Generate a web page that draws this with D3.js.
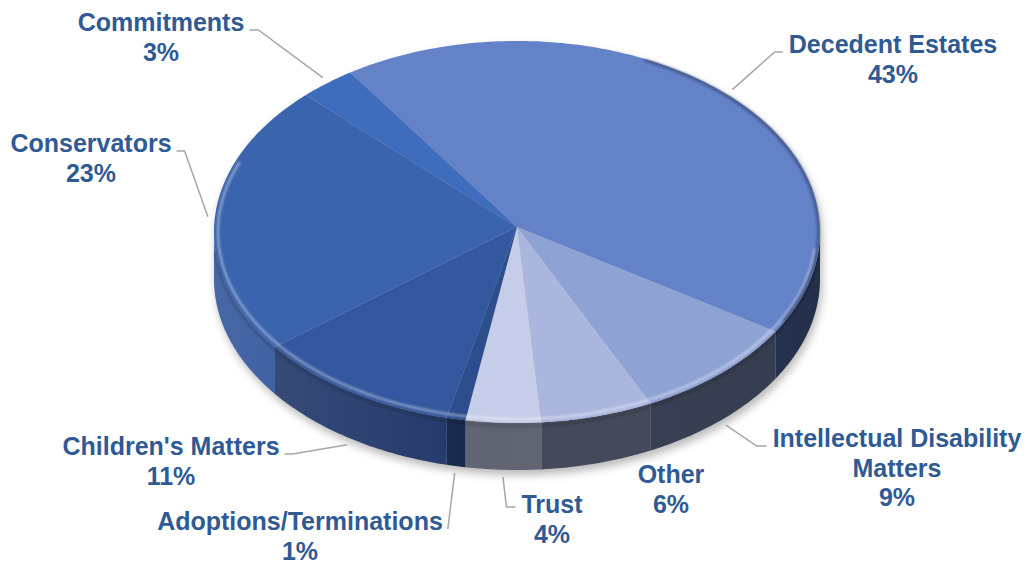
<!DOCTYPE html>
<html>
<head>
<meta charset="utf-8">
<script src="https://cdn.jsdelivr.net/npm/d3@7"></script>
<style>
body { margin: 0; background: #fff; }
svg { display: block; font-family: "Liberation Sans", Arial, sans-serif; }
</style>
</head>
<body>
<div class="chart"></div>
<script>
// data
var categories = ["Decedent Estates", "Intellectual Disability Matters", "Other", "Trust",
    "Adoptions/Terminations", "Children's Matters", "Conservators", "Commitments"];
var shares = [43, 9, 6, 4, 1, 11, 23, 3];

// styles
var topColors = ["#6482C8", "#8FA2D4", "#ABB6DE", "#C6CDE8", "#2D4E8C", "#34589F", "#3A64AE", "#3F6DBD"];
var sideColors = ["#25324F", "#363E52", "#42485A", "#5F6372", "#15284A", "#22386A", "#2E5299", "#2E5299"];

// label layout: centre x, first baseline, words on first line, where the leader leaves the text
var labelLayout = [
    {x: 893, y: 53, firstWords: 2, side: "left", elbow: 8},
    {x: 897, y: 447, firstWords: 2, side: "left", elbow: 10},
    {x: 671, y: 483, firstWords: 1, side: "none"},
    {x: 552, y: 513, firstWords: 1, side: "left", elbow: 9, lift: 5},
    {x: 300, y: 530, firstWords: 1, side: "right", elbow: 0},
    {x: 171, y: 455, firstWords: 2, side: "right", elbow: 8},
    {x: 91, y: 152, firstWords: 1, side: "right", elbow: 8},
    {x: 161, y: 31, firstWords: 1, side: "right", elbow: 9}
];

var width = 1029, height = 566;
var cx = 517, cy = 232, rx = 303, ry = 191, depth = 47;
var apex = [517, 227];
var startAngle = -33.4 * Math.PI / 180;
var lineHeight = 29.5;

var svg = d3.select(".chart")
    .append("svg")
    .attr("width", width)
    .attr("height", height);

var defs = svg.append("defs");
defs.append("filter").attr("id", "shadowBlur")
    .attr("x", "-20%").attr("y", "-20%").attr("width", "140%").attr("height", "140%")
    .append("feGaussianBlur").attr("stdDeviation", 4);
defs.append("filter").attr("id", "softBlur")
    .append("feGaussianBlur").attr("stdDeviation", 1.2);

var sideGrad = defs.append("linearGradient").attr("id", "sideGrad")
    .attr("gradientUnits", "userSpaceOnUse")
    .attr("x1", cx - rx).attr("x2", cx + rx).attr("y1", 0).attr("y2", 0);
sideGrad.append("stop").attr("offset", 0).attr("stop-color", "#fff").attr("stop-opacity", 0.12);
sideGrad.append("stop").attr("offset", 0.45).attr("stop-color", "#fff").attr("stop-opacity", 0);
sideGrad.append("stop").attr("offset", 1).attr("stop-color", "#000").attr("stop-opacity", 0.05);

var pie = d3.pie()
    .sort(null)
    .value(function(d) { return d; })
    .startAngle(startAngle)
    .endAngle(startAngle + 2 * Math.PI);
var arcs = pie(shares);

function rim(a, dy, grow) {
    grow = grow || 0;
    return [cx + (rx + grow) * Math.sin(a), cy - (ry + grow) * Math.cos(a) + (dy || 0)];
}

function arcPoints(a0, a1, dy, grow) {
    var n = Math.max(2, Math.ceil(Math.abs(a1 - a0) / (Math.PI / 180)));
    return d3.range(n + 1).map(function(i) { return rim(a0 + (a1 - a0) * i / n, dy, grow); });
}

var line = d3.line();
var front0 = Math.PI / 2, front1 = 3 * Math.PI / 2;
var deg = Math.PI / 180;

// drop shadow of the whole disc
var silhouette = arcPoints(-Math.PI / 2, Math.PI / 2, 0).concat(arcPoints(front0, front1, depth));
svg.append("path")
    .attr("d", line(silhouette) + "Z")
    .attr("transform", "translate(2,5)")
    .attr("fill", "#000")
    .attr("fill-opacity", 0.28)
    .attr("filter", "url(#shadowBlur)");

// sides
var sides = svg.append("g");
arcs.forEach(function(d, i) {
    var lo = Math.max(d.startAngle, front0), hi = Math.min(d.endAngle, front1);
    if (lo >= hi) return;
    var pts = arcPoints(lo, hi, 0).concat(arcPoints(hi, lo, depth));
    sides.append("path")
        .attr("d", line(pts) + "Z")
        .attr("fill", sideColors[i]);
});
svg.append("path")
    .attr("d", line(arcPoints(front0, front1, 0).concat(arcPoints(front1, front0, depth))) + "Z")
    .attr("fill", "url(#sideGrad)");

// top faces
var tops = svg.append("g");
arcs.forEach(function(d, i) {
    var pts = [apex].concat(arcPoints(d.startAngle, d.endAngle, 0));
    tops.append("path")
        .attr("d", line(pts) + "Z")
        .attr("fill", topColors[i]);
});

// bevel: light along the front rim, dark along the right rim
svg.append("path")
    .attr("d", line(arcPoints(95 * deg, 292 * deg, 0, -4)))
    .attr("fill", "none")
    .attr("stroke", "#fff")
    .attr("stroke-opacity", 0.4)
    .attr("stroke-width", 2.5)
    .attr("filter", "url(#softBlur)");
svg.append("path")
    .attr("d", line(arcPoints(25 * deg, 118 * deg, 0, -1.5)))
    .attr("fill", "none")
    .attr("stroke", "#1E2A48")
    .attr("stroke-opacity", 0.45)
    .attr("stroke-width", 3)
    .attr("filter", "url(#softBlur)");
svg.append("path")
    .attr("d", line(arcPoints(95 * deg, 265 * deg, 3, 0)))
    .attr("fill", "none")
    .attr("stroke", "#000")
    .attr("stroke-opacity", 0.15)
    .attr("stroke-width", 3)
    .attr("filter", "url(#softBlur)");

// labels
var labels = svg.append("g")
    .attr("fill", "#2F5A94")
    .attr("font-size", "25px")
    .attr("font-weight", "bold")
    .attr("text-anchor", "middle");

arcs.forEach(function(d, i) {
    var lay = labelLayout[i];
    var words = categories[i].split(" ");
    var rows = [words.slice(0, lay.firstWords).join(" ")];
    if (words.length > lay.firstWords) rows.push(words.slice(lay.firstWords).join(" "));
    rows.push(shares[i] + "%");

    var t = labels.append("text");
    rows.forEach(function(r, k) {
        t.append("tspan").attr("x", lay.x).attr("y", lay.y + k * lineHeight).text(r);
    });

    if (lay.side === "none") return;
    var w = t.select("tspan").node().getComputedTextLength();
    var ay = lay.y - 1 - (lay.lift || 0);
    var ax = lay.side === "left" ? lay.x - w / 2 - 6 : lay.x + w / 2 + 5;
    var ex = lay.side === "left" ? ax - lay.elbow : ax + lay.elbow;

    var mid = (d.startAngle + d.endAngle) / 2;
    var isFront = Math.cos(mid) < 0;
    var tip = rim(mid, isFront ? depth : 0, 7);

    svg.append("path")
        .attr("d", line([[ax, ay], [ex, ay], tip]))
        .attr("fill", "none")
        .attr("stroke", "#A6A6A6")
        .attr("stroke-width", 1.5);
});
</script>
</body>
</html>
